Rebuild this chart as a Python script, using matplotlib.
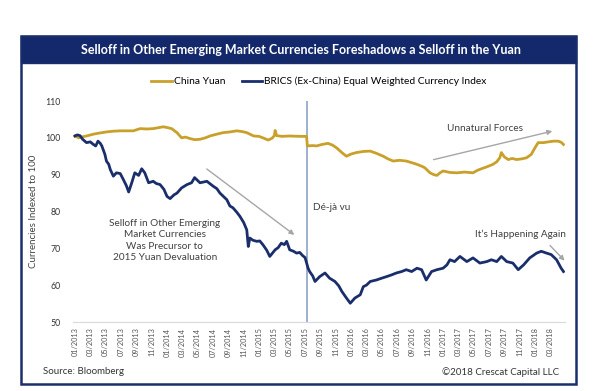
import matplotlib
matplotlib.use("Agg")
import matplotlib.pyplot as plt
from matplotlib.patches import Rectangle

plt.rcParams["font.family"] = ["Lato", "DejaVu Sans"]

# months since 01/2013, index value
brics = [(0, 100.5), (0.3, 100.8), (0.65, 100.6), (1.0, 99.6), (1.5, 98.7), (2.0, 98.9),
         (2.4, 98.2), (2.7, 97.8), (3.0, 99.1), (3.3, 98.5), (3.5, 97.8), (3.9, 95.5),
         (4.1, 93.7), (4.4, 92.8), (4.6, 91.4), (5.0, 89.6), (5.4, 90.5), (5.9, 90.3),
         (6.3, 88.7), (6.7, 87.0), (7.0, 85.3), (7.4, 87.8), (7.8, 90.5), (8.3, 89.8),
         (8.7, 91.6), (9.1, 90.5), (9.6, 87.8), (10.2, 88.2), (10.6, 87.6), (11.1, 87.3),
         (11.6, 86.0), (12.0, 84.1), (12.4, 83.5), (12.9, 84.5), (13.3, 85.0), (13.9, 86.4),
         (14.6, 87.3), (15.2, 87.8), (15.6, 89.2), (16.3, 87.8), (17.2, 88.2), (18.0, 86.9),
         (18.5, 86.2), (18.9, 85.0), (19.4, 84.0), (19.8, 83.2), (20.2, 81.5), (20.6, 81.0),
         (21.1, 79.8), (21.5, 78.7), (22.0, 77.0), (22.4, 75.0), (22.6, 70.5), (22.8, 72.8),
         (23.2, 72.2), (23.7, 71.9), (24.1, 72.0), (24.5, 71.0), (25.0, 69.5), (25.4, 67.8),
         (26.1, 69.6), (26.5, 70.2), (26.9, 71.4), (27.3, 71.0), (27.6, 71.9), (28.0, 69.6),
         (28.5, 69.2), (28.9, 68.7), (29.3, 68.9), (29.7, 68.0), (30.0, 67.5), (30.4, 64.6),
         (30.6, 63.7), (31.0, 62.5), (31.3, 61.0), (31.9, 62.3), (32.6, 63.3), (33.2, 61.9),
         (33.9, 61.0), (34.4, 59.8), (34.8, 58.3), (35.4, 56.5), (35.9, 55.1), (36.5, 56.5),
         (37.2, 57.4), (37.6, 59.6), (38.0, 60.0), (38.5, 61.0), (39.3, 61.4), (40.0, 61.9),
         (40.6, 62.3), (41.3, 62.8), (41.9, 63.3), (42.6, 63.7), (43.2, 64.2), (43.9, 63.7),
         (44.6, 64.6), (45.2, 64.2), (45.8, 61.4), (46.5, 63.7), (47.2, 64.2), (48.0, 64.6),
         (48.5, 65.5), (48.9, 66.9), (49.5, 66.4), (50.2, 67.8), (51.1, 66.4), (51.9, 67.4),
         (52.8, 66.0), (53.7, 66.4), (54.3, 66.9), (55.0, 66.4), (55.6, 67.8), (56.3, 66.4),
         (57.1, 66.0), (57.8, 64.2), (58.5, 65.5), (59.3, 67.4), (60.2, 68.7), (60.8, 69.2),
         (61.5, 68.7), (62.1, 68.3), (62.8, 66.9), (63.4, 64.6), (63.7, 63.7)]

yuan = [(0, 100.5), (0.5, 100.0), (0.8, 100.2), (1.5, 100.5), (2.4, 101.0), (3.2, 101.3),
        (4.1, 101.6), (5.0, 101.8), (5.9, 101.9), (6.8, 101.9), (7.6, 101.9), (8.5, 102.5),
        (9.4, 102.4), (10.2, 102.5), (11.0, 102.8), (11.5, 103.0), (12.0, 102.8), (12.6, 102.5),
        (13.3, 101.4), (13.9, 100.0), (14.4, 100.2), (15.0, 99.8), (15.6, 99.5), (16.3, 99.6),
        (17.0, 100.0), (17.6, 100.5), (18.5, 101.0), (19.3, 101.4), (20.2, 101.6), (21.1, 101.9),
        (21.8, 101.7), (22.4, 101.4), (23.0, 100.8), (23.3, 100.5), (24.0, 100.4), (24.5, 100.0),
        (25.2, 99.4), (25.7, 99.9), (26.0, 100.6), (26.1, 102.0), (26.3, 100.6), (27.0, 100.4),
        (28.0, 100.5), (29.3, 100.4), (30.2, 100.4), (30.3, 97.8), (31.0, 97.9), (31.5, 97.8),
        (32.2, 98.2), (33.0, 98.5), (33.6, 98.0), (34.1, 97.3), (34.8, 96.0), (35.4, 95.0),
        (36.0, 95.6), (36.7, 96.0), (37.6, 96.3), (38.5, 96.4), (39.3, 95.8), (40.2, 95.0),
        (40.8, 94.3), (41.5, 93.7), (42.3, 93.9), (43.2, 93.7), (44.0, 93.2), (44.6, 92.8),
        (45.2, 92.3), (45.6, 91.9), (46.3, 90.5), (46.8, 90.0), (47.2, 89.8), (47.6, 90.5),
        (48.0, 91.0), (48.9, 90.6), (49.8, 90.5), (50.8, 90.7), (51.9, 90.5), (52.5, 91.2),
        (53.0, 91.6), (53.8, 92.2), (54.5, 92.8), (55.0, 93.5), (55.4, 94.6), (55.6, 96.0),
        (56.0, 94.8), (56.5, 94.1), (57.0, 94.4), (57.6, 94.1), (58.3, 94.3), (58.9, 94.6),
        (59.5, 95.5), (59.9, 97.0), (60.4, 98.7), (61.1, 98.7), (61.7, 98.9), (62.4, 99.1),
        (63.0, 99.1), (63.4, 98.8), (63.7, 98.2)]

tick_labels = ["01/2013", "03/2013", "05/2013", "07/2013", "09/2013", "11/2013",
               "01/2014", "03/2014", "05/2014", "07/2014", "09/2014", "11/2014",
               "01/2015", "03/2015", "05/2015", "07/2015", "09/2015", "11/2015",
               "01/2016", "03/2016", "05/2016", "07/2016", "09/2016", "11/2016",
               "01/2017", "03/2017", "05/2017", "07/2017", "09/2017", "11/2017",
               "01/2018", "03/2018"]
devaluation = 30.25

navy = "#1a2e6c"
gold = "#c9a02a"

fig = plt.figure(figsize=(6.02, 3.91), dpi=100)

# outer frame and title bar (behind the axes)
fig.patches.append(Rectangle((21 / 602, 1 - 384 / 391), 555 / 602, 348 / 391,
                             transform=fig.transFigure, facecolor="white",
                             edgecolor=navy, linewidth=1.8, zorder=-2))
fig.patches.append(Rectangle((21 / 602, 1 - 63 / 391), 555 / 602, 27 / 391,
                             transform=fig.transFigure, facecolor="#14296b",
                             edgecolor=navy, linewidth=1.0, zorder=-1))
fig.text(0.5, 1 - 49.5 / 391,
         "Selloff in Other Emerging Market Currencies Foreshadows a Selloff in the Yuan",
         color="white", fontsize=9, fontweight="bold", ha="center", va="center")

ax = fig.add_axes([73 / 602, 1 - 322 / 391, 492 / 602, 221 / 391])
ax.set_facecolor("none")

ax.plot([p[0] for p in yuan], [p[1] for p in yuan], color=gold, linewidth=2.0,
        label="China Yuan")
ax.plot([p[0] for p in brics], [p[1] for p in brics], color=navy, linewidth=2.0,
        label="BRICS (Ex-China) Equal Weighted Currency Index")
ax.axvline(devaluation, color="#8ea3c9", linewidth=1.2, zorder=1)

ax.set_xlim(-0.26, 63.9)
ax.set_ylim(50, 110)
ax.set_yticks(range(50, 111, 10))
ax.set_xticks(range(0, 64, 2))
ax.set_xticklabels(tick_labels, rotation=90, fontsize=5.3, color="#555555")
ax.tick_params(axis="y", labelsize=6.3, colors="#333333", length=0, pad=9)
ax.tick_params(axis="x", length=0, pad=4)
for s in ["top", "right", "left"]:
    ax.spines[s].set_visible(False)
ax.spines["bottom"].set_color("#d9d9d9")
ax.set_ylabel("Currencies Indexed to 100", fontsize=7, color="#444444", labelpad=5)

ax.legend(loc="lower center", bbox_to_anchor=(0.5, 1.025), ncol=2, frameon=False,
          fontsize=7.4, handlelength=2.0, handletextpad=0.2, columnspacing=1.6)

# annotations
grey = "#a6a6a6"
ax.text(11.7, 72.1, "Selloff in Other Emerging\nMarket Currencies\nWas Precursor to\n2015 Yuan Devaluation",
        ha="center", va="center", fontsize=7.2, color="#404040", linespacing=1.35)
ax.annotate("", xy=(28.9, 73.2), xytext=(16.9, 92.0),
            arrowprops=dict(arrowstyle="-|>", color=grey, lw=1.0, mutation_scale=7))
ax.text(31.0, 81.1, "Dé-jà vu", ha="left", va="center", fontsize=7.2, color="#404040")
ax.text(53.5, 102.4, "Unnatural Forces", ha="center", va="center", fontsize=7.2,
        color="#404040")
ax.annotate("", xy=(62.6, 102.0), xytext=(46.4, 93.9),
            arrowprops=dict(arrowstyle="-|>", color=grey, lw=1.0, mutation_scale=7))
ax.text(58.1, 73.7, "It’s Happening Again", ha="center", va="center", fontsize=7.2,
        color="#404040")
ax.annotate("", xy=(64.1, 66.1), xytext=(61.7, 71.3), annotation_clip=False,
            arrowprops=dict(arrowstyle="-|>", color=grey, lw=1.0, mutation_scale=7))

fig.text(43 / 602, 1 - 372 / 391, "Source: Bloomberg", fontsize=7, color="#333333",
         ha="left", va="center")
fig.text(559 / 602, 1 - 372 / 391, "©2018 Crescat Capital LLC", fontsize=7,
         color="#333333", ha="right", va="center")

fig.savefig("out.png", dpi=100)
